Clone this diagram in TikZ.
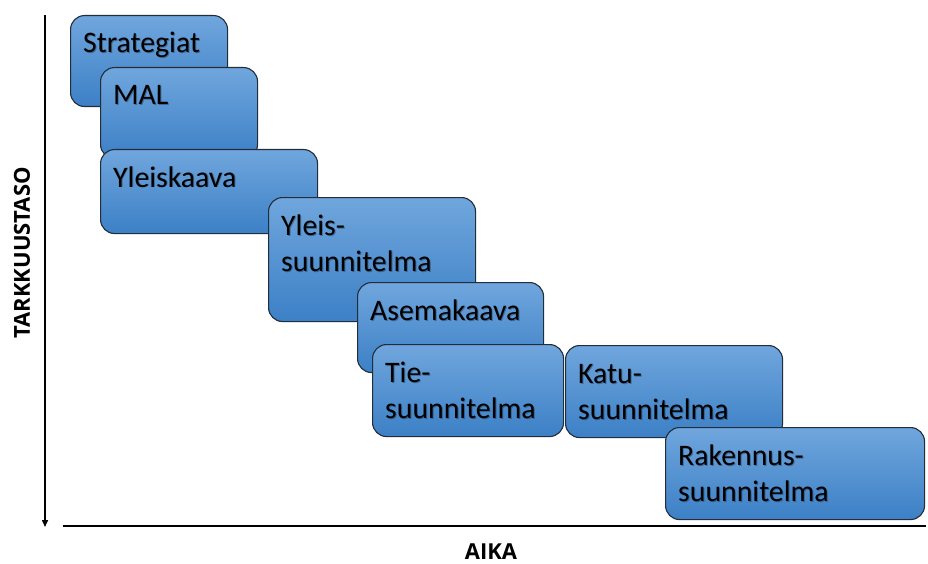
\documentclass[tikz,border=0pt]{standalone}
\usepackage{fontspec}
\setmainfont{Carlito}
\newfontfamily\axisfont{Open Sans}
\usetikzlibrary{arrows.meta}
\definecolor{boxtop}{RGB}{112,166,221}
\definecolor{boxbot}{RGB}{60,128,198}
\definecolor{boxline}{RGB}{35,45,58}
\tikzset{
  planbox/.style={draw=boxline, line width=1.1pt, rounded corners=14pt,
    top color=boxtop, bottom color=boxbot, inner sep=0pt, anchor=north west},
  plantext/.style={anchor=base west, inner sep=0pt, align=left,
    font=\fontsize{29.8}{36}\selectfont, text=black},
  planshadow/.style={plantext, text=black, text opacity=0.3},
  axislabel/.style={font=\axisfont\bfseries\fontsize{22}{26}\selectfont, inner sep=0pt},
  axisline/.style={line width=1.5pt, black}
}
\newcommand{\planbox}[7]{%
  \node[planbox, minimum width=#4pt-#2pt, minimum height=#5pt-#3pt] (#1) at (#2,#3) {};
  \node[planshadow] (#1-s) at ([xshift=14pt,yshift=-39pt]#1.north west) {#6};
  \node[plantext] (#1-t) at ([xshift=13pt,yshift=-38pt]#1.north west) {#6};
  \ifx\relax#7\relax\else
  \node[planshadow] (#1-v) at ([yshift=-36pt]#1-s.base west) {#7};
  \node[plantext] (#1-u) at ([yshift=-36pt]#1-t.base west) {#7};
  \fi
}
\begin{document}
\begin{tikzpicture}[x=1pt,y=-1pt]
\useasboundingbox (0,0) rectangle (928,564);
\fill[white] (0,0) rectangle (928,564);
% axes
\coordinate (ytop) at (45,15);
\coordinate (ybot) at (45,527);
\coordinate (xl) at (63,526);
\coordinate (xr) at (926,526);
\draw[axisline, -{Triangle[length=7pt,width=6pt]}] (ytop) -- (ybot);
\draw[axisline] (xl) -- (xr);
\node[axislabel, rotate=90] (ylab) at (22,253) {TARKKUUSTASO};
\node[axislabel, anchor=base] (xlab) at (491,559) {AIKA};
% boxes
\planbox{strat}{70}{15}{227}{106}{Strategiat}{}
\planbox{mal}{100}{67}{257}{158}{MAL}{}
\planbox{yk}{100}{149}{317}{233}{Yleiskaava}{}
\planbox{ys}{268}{197}{475}{321}{Yleis-}{suunnitelma}
\planbox{ak}{357}{282}{543}{372}{Asemakaava}{}
\planbox{ts}{372}{344}{563}{436}{Tie-}{suunnitelma}
\planbox{ks}{565}{345}{782}{437}{Katu-}{suunnitelma}
\planbox{rs}{665}{427}{924}{519}{Rakennus-}{suunnitelma}
\end{tikzpicture}
\end{document}
